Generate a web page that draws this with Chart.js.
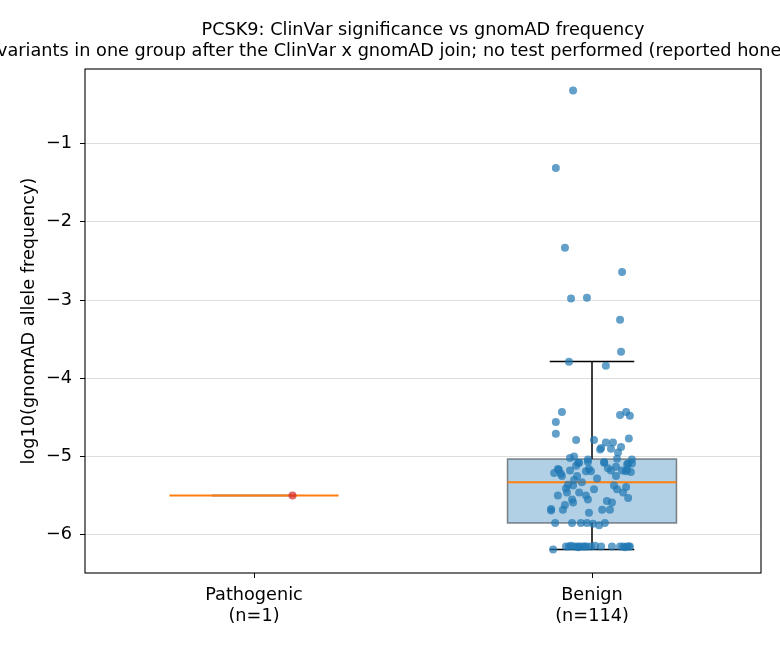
<!DOCTYPE html>
<html>
<head>
<meta charset="utf-8">
<script src="https://cdn.jsdelivr.net/npm/chart.js@4.4.1/dist/chart.umd.min.js"></script>
<style>
  html, body { margin: 0; padding: 0; background: #fff; overflow: hidden; }
  #wrap { position: relative; width: 780px; height: 650px; }
  .ttl { position: absolute; font-family: "DejaVu Sans", sans-serif; font-size: 17.7px; line-height: 21px; color: #000; white-space: nowrap; }
  #t1 { top: 19px; left: 423px; transform: translateX(-50%); }
  #t2 { top: 40px; left: -3px; }
  canvas { position: absolute; left: 0; top: 0; }
</style>
</head>
<body>
<div id="wrap">
  <canvas id="boxChart" width="780" height="650"></canvas>
  <div class="ttl" id="t1">PCSK9: ClinVar significance vs gnomAD frequency</div>
  <div class="ttl" id="t2">variants in one group after the ClinVar x gnomAD join; no test performed (reported honestly)</div>
</div>
<script>
// categories and counts
const categories = ['Pathogenic', 'Benign'];
const counts = [1, 114];
const xTickValues = [1, 2];
const yTickValues = [-6, -5, -4, -3, -2, -1];

// box stats (log10 AF)
const q1 = [-5.50, -5.851];
const median = [-5.50, -5.331];
const q3 = [-5.50, -5.032];
const whiskerLow = [-5.50, -6.188];
const whiskerHigh = [-5.50, -3.784];

// jittered points
const pathogenicJitter = [0.114];
const pathogenicValues = [-5.50];

const benignJitter = [
    -0.056, -0.107, -0.080, 0.089, -0.062, -0.015, 0.083, 0.086, -0.068, 0.041,
    -0.089, -0.107, -0.107, -0.047, 0.006, 0.041, 0.062, 0.027, 0.024, 0.056,
    0.086, 0.077, 0.109, 0.083, 0.101, 0.112, -0.065, -0.053, -0.012, -0.041,
    0.036, 0.074, 0.118, 0.107,
    -0.101, -0.112, -0.098, -0.065, -0.047, -0.038, -0.012, -0.009, -0.003, 0.036,
    0.056, 0.071, 0.071, 0.089, 0.104, 0.118, 0.115, 0.104, -0.089, -0.044,
    -0.053, -0.071, -0.077, -0.074, -0.056, 0.006, -0.038, -0.018, -0.012, -0.101,
    0.074, 0.092, 0.101, 0.107, -0.059, -0.056, 0.044, 0.059, -0.121, -0.121,
    -0.086, 0.030, 0.053, -0.009,
    -0.092, -0.018, 0.047, -0.030, 0.065, -0.080, 0.015, 0.100,
    -0.109, -0.059, -0.033, -0.015, 0.003, 0.021, 0.038,
    -0.115, -0.077, -0.068, -0.053, -0.044, -0.036, -0.027, -0.015, -0.003, 0.027,
    0.059, 0.083, 0.092, 0.104, 0.109, -0.062, -0.041, -0.021, 0.009, 0.097, 0.112
];
const benignValues = [
    -0.32, -1.31, -2.33, -2.64, -2.98, -2.97, -3.25, -3.66, -3.79, -3.84,
    -4.43, -4.56, -4.71, -4.79, -4.79, -4.82, -4.82, -4.89, -4.91, -4.90,
    -4.88, -4.95, -4.77, -4.47, -4.43, -4.48, -5.02, -5.00, -5.04, -5.08,
    -5.07, -5.03, -5.04, -5.09,
    -5.16, -5.21, -5.17, -5.18, -5.12, -5.08, -5.07, -5.16, -5.19, -5.08,
    -5.18, -5.13, -5.25, -5.18, -5.17, -5.09, -5.20, -5.10, -5.25, -5.25,
    -5.30, -5.36, -5.41, -5.46, -5.37, -5.42, -5.46, -5.50, -5.55, -5.50,
    -5.42, -5.46, -5.39, -5.53, -5.55, -5.59, -5.57, -5.59, -5.67, -5.69,
    -5.68, -5.68, -5.68, -5.72,
    -5.22, -5.19, -5.15, -5.33, -5.37, -5.62, -5.28, -5.19,
    -5.85, -5.85, -5.85, -5.85, -5.86, -5.88, -5.85,
    -6.19, -6.15, -6.15, -6.15, -6.15, -6.15, -6.15, -6.15, -6.15, -6.15,
    -6.15, -6.15, -6.15, -6.15, -6.15, -6.14, -6.16, -6.15, -6.14, -6.16, -6.15
];

const FONT = { family: '"DejaVu Sans", sans-serif', size: 17.7, lineHeight: 1.2 };

// box + whiskers under the points
const boxPlugin = {
    id: 'boxes',
    beforeDatasetsDraw(chart) {
        const ctx = chart.ctx;
        const xs = chart.scales.x, ys = chart.scales.y;
        const a = chart.chartArea;
        ctx.save();
        ctx.beginPath();
        ctx.rect(a.left, a.top, a.right - a.left, a.bottom - a.top);
        ctx.clip();
        categories.forEach((c, i) => {
            const pos = xTickValues[i];
            const xl = xs.getPixelForValue(pos - 0.25), xr = xs.getPixelForValue(pos + 0.25);
            const xc = xs.getPixelForValue(pos);
            const cl = xs.getPixelForValue(pos - 0.125), cr = xs.getPixelForValue(pos + 0.125);
            const yq1 = ys.getPixelForValue(q1[i]), yq3 = ys.getPixelForValue(q3[i]);
            // box (skip if it collapsed to a line)
            if (q3[i] > q1[i]) {
                ctx.fillStyle = 'rgba(31,119,180,0.35)';
                ctx.fillRect(xl, yq3, xr - xl, yq1 - yq3);
                ctx.strokeStyle = 'rgba(0,0,0,0.45)';
                ctx.lineWidth = 1.5;
                ctx.strokeRect(xl, yq3, xr - xl, yq1 - yq3);
            }
            // whiskers + caps
            ctx.strokeStyle = '#000';
            ctx.lineWidth = 1.5;
            const yLo = ys.getPixelForValue(whiskerLow[i]), yHi = ys.getPixelForValue(whiskerHigh[i]);
            ctx.beginPath();
            ctx.moveTo(xc, yq1); ctx.lineTo(xc, yLo);
            ctx.moveTo(xc, yq3); ctx.lineTo(xc, yHi);
            ctx.moveTo(cl, yLo); ctx.lineTo(cr, yLo);
            ctx.moveTo(cl, yHi); ctx.lineTo(cr, yHi);
            ctx.stroke();
            // median
            const ym = ys.getPixelForValue(median[i]);
            ctx.strokeStyle = '#ff7f0e';
            ctx.lineWidth = 2;
            ctx.beginPath();
            ctx.moveTo(xl, ym); ctx.lineTo(xr, ym);
            ctx.stroke();
        });
        ctx.restore();
    },
    afterDraw(chart) {
        const a = chart.chartArea, ctx = chart.ctx;
        ctx.save();
        ctx.strokeStyle = '#000';
        ctx.lineWidth = 1.1;
        ctx.strokeRect(a.left, a.top, a.right - a.left, a.bottom - a.top);
        ctx.restore();
    }
};

const ctx = document.getElementById('boxChart').getContext('2d');
new Chart(ctx, {
    type: 'scatter',
    data: {
        datasets: [
            {
                label: categories[0],
                data: pathogenicValues.map((v, i) => ({ x: xTickValues[0] + pathogenicJitter[i], y: v })),
                backgroundColor: 'rgba(214,39,40,0.7)',
                borderWidth: 0,
                pointRadius: 4
            },
            {
                label: categories[1],
                data: benignValues.map((v, i) => ({ x: xTickValues[1] + benignJitter[i], y: v })),
                backgroundColor: 'rgba(31,119,180,0.7)',
                borderWidth: 0,
                pointRadius: 4
            }
        ]
    },
    options: {
        responsive: false,
        animation: false,
        layout: { padding: { top: 69, right: 19, bottom: 0, left: 0 } },
        plugins: {
            legend: { display: false },
            tooltip: { enabled: false },
            title: { display: false }
        },
        scales: {
            x: {
                type: 'linear',
                min: 0.5,
                max: 2.5,
                border: { display: false },
                grid: { drawOnChartArea: false, drawTicks: true, tickLength: 5, tickColor: '#000', tickWidth: 1 },
                afterBuildTicks: s => { s.ticks = xTickValues.map(v => ({ value: v })); },
                afterFit: s => { s.height = 77; },
                ticks: {
                    color: '#000',
                    font: FONT,
                    padding: 7,
                    maxRotation: 0,
                    autoSkip: false,
                    callback: v => {
                        const i = xTickValues.indexOf(v);
                        return i < 0 ? '' : [categories[i], '(n=' + counts[i] + ')'];
                    }
                }
            },
            y: {
                min: -6.49,
                max: -0.045,
                border: { display: false },
                grid: { color: '#dedede', lineWidth: 1, tickLength: 5, tickColor: '#000', tickWidth: 1 },
                afterBuildTicks: s => { s.ticks = yTickValues.map(v => ({ value: v })); },
                afterFit: s => { s.width = 85; },
                ticks: {
                    color: '#000',
                    font: FONT,
                    padding: 8,
                    callback: v => '\u2212' + Math.abs(v)
                },
                title: {
                    display: true,
                    text: 'log10(gnomAD allele frequency)',
                    color: '#000',
                    font: FONT,
                    padding: { top: 19, bottom: 0 }
                }
            }
        }
    },
    plugins: [boxPlugin]
});
</script>
</body>
</html>
